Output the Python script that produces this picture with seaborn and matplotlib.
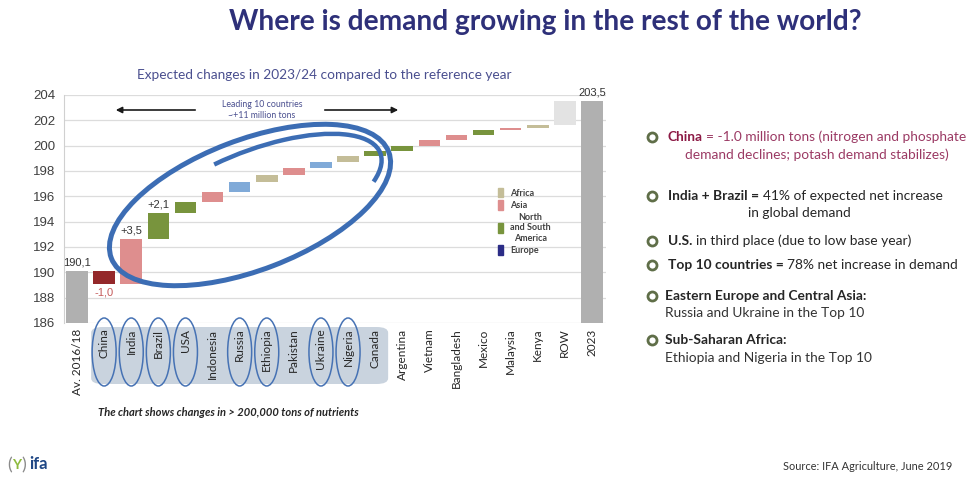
import matplotlib
matplotlib.use("Agg")
import matplotlib.pyplot as plt
from matplotlib.patches import Ellipse, Arc, FancyBboxPatch, Patch
import seaborn as sns

# ---- data (million tons of nutrients) ----
start_label = "Av. 2016/18"
start_value = 190.1
countries = ["China", "India", "Brazil", "USA", "Indonesia", "Russia", "Ethiopia",
             "Pakistan", "Ukraine", "Nigeria", "Canada", "Argentina", "Vietnam",
             "Bangladesh", "Mexico", "Malaysia", "Kenya", "ROW"]
changes = [-1.0, 3.5, 2.1, 0.85, 0.8, 0.75, 0.55, 0.55, 0.5, 0.45, 0.45,
           0.4, 0.45, 0.4, 0.35, 0.2, 0.2, 1.9]
regions = ["Decline", "Asia", "America", "America", "Asia", "Europe", "Africa",
           "Asia", "Europe", "Africa", "America", "America", "Asia",
           "Asia", "America", "Asia", "Africa", "Rest"]
end_label = "2023"
end_value = 203.5
circled = ["China", "India", "Brazil", "USA", "Russia", "Ethiopia", "Ukraine", "Nigeria"]
top_ten = ["China", "India", "Brazil", "USA", "Indonesia", "Russia", "Ethiopia",
           "Pakistan", "Ukraine", "Nigeria", "Canada"]
value_labels = {"Av. 2016/18": "190,1", "China": "-1,0", "India": "+3,5",
                "Brazil": "+2,1", "2023": "203,5"}
y_ticks = [186, 188, 190, 192, 194, 196, 198, 200, 202, 204]

region_colors = {"Total": "#B0B0B0", "Decline": "#94282A", "Asia": "#DE8E8E",
                 "America": "#78943D", "Africa": "#C4BD98", "Europe": "#80AAD8",
                 "Rest": "#E3E3E3"}
legend_entries = [("Africa", "#C4BD98"), ("Asia", "#DE8E8E"),
                  ("North\nand South\nAmerica", "#78943D"), ("Europe", "#2B2C86")]

# ---- waterfall geometry from the data ----
categories = [start_label] + countries + [end_label]
heights = [start_value] + changes + [end_value]
starts = [0.0]
level = start_value
for c in changes:
    starts.append(level)
    level += c
starts.append(0.0)
bar_regions = ["Total"] + regions + ["Total"]
palette = {cat: region_colors[r] for cat, r in zip(categories, bar_regions)}

sns.set_style("white")
plt.rcParams["font.family"] = ["Lato", "DejaVu Sans"]

W, H = 968, 478
fig = plt.figure(figsize=(W / 100, H / 100), dpi=100)
fig.patch.set_facecolor("white")

ax = fig.add_axes([63.5 / W, 1 - 323 / H, 542 / W, 228 / H])
sns.barplot(x=categories, y=heights, hue=categories, palette=palette,
            order=categories, hue_order=categories, legend=False,
            errorbar=None, width=0.8, saturation=1, ax=ax, zorder=3)
# shift each bar so it starts at the running total
for p in ax.patches:
    idx = int(round(p.get_x() + p.get_width() / 2))
    p.set_y(starts[idx])
    p.set_linewidth(0)

ax.set_xlim(-0.5, len(categories) - 0.5)
ax.set_ylim(186, 204)
ax.set_yticks(y_ticks)
ax.set_yticklabels([str(v) for v in y_ticks], fontsize=9.5,
                   family="Liberation Sans", color="#404040")
ax.set_xticks(range(len(categories)))
ax.set_xticklabels(categories, rotation=90, fontsize=8.5, color="#262626")
ax.tick_params(axis="both", length=0)
ax.tick_params(axis="x", pad=4)
ax.tick_params(axis="y", pad=6)
ax.grid(axis="y", color="#DCDCDC", lw=0.9, zorder=0)
ax.set_axisbelow(True)
for s in ["top", "right", "bottom"]:
    ax.spines[s].set_visible(False)
ax.spines["left"].set_color("#D0D0D0")
ax.set_xlabel("")
ax.set_ylabel("")

# value labels
for cat, txt in value_labels.items():
    i = categories.index(cat)
    top = starts[i] + heights[i]
    if heights[i] < 0:
        ax.annotate(txt, (i, top), xytext=(0, -3), textcoords="offset points",
                    ha="center", va="top", fontsize=8, family="Liberation Sans",
                    color="#C45A5A")
    else:
        ax.annotate(txt, (i, top), xytext=(0, 2.5), textcoords="offset points",
                    ha="center", va="bottom", fontsize=8, family="Liberation Sans",
                    color="#333333")

leg = ax.legend([Patch(color=c) for _, c in legend_entries],
                [n for n, _ in legend_entries],
                loc="upper left", bbox_to_anchor=((494 - 63.5) / 542, (323 - 184) / 228),
                frameon=False, prop={"family": "Lato", "weight": "bold", "size": 6.5},
                handlelength=0.55, handleheight=1.3, handletextpad=0.8,
                labelspacing=0.3, borderaxespad=0)
for t in leg.get_texts():
    t.set_multialignment("center")
    t.set_color("#404040")

# ---- overlay in pixel coordinates ----
ov = fig.add_axes([0, 0, 1, 1], zorder=5)
ov.set_xlim(0, W)
ov.set_ylim(H, 0)
ov.axis("off")
ov.patch.set_alpha(0)

fig.canvas.draw()
renderer = fig.canvas.get_renderer()


def xpix(i):
    return ax.transData.transform((i, 190))[0]


# shaded band behind the leading-country labels
x0 = xpix(categories.index(top_ten[0])) - 13
x1 = xpix(categories.index(top_ten[-1])) + 13
band = FancyBboxPatch((x0 / W, 1 - 384 / H), (x1 - x0) / W, 57 / H,
                      boxstyle="round,pad=0,rounding_size=0.012",
                      transform=fig.transFigure, facecolor="#C9D3DE",
                      edgecolor="none", zorder=-1)
fig.patches.append(band)

# hand-drawn ellipses around selected labels
for name in circled:
    xc = xpix(categories.index(name))
    ov.add_patch(Ellipse((xc, 352), 24, 68, fill=False, ec="#4672B4", lw=1.1))

# big swirl around the leading countries
ov.add_patch(Ellipse((250, 205), 297, 130, angle=-21, fill=False,
                     ec="#3C6DB4", lw=3.6))
ov.add_patch(Arc((258, 200), 262, 100, angle=-21, theta1=-120, theta2=12,
                 ec="#3C6DB4", lw=3.2))

# arrows and the leading-countries note
ov.annotate("", xy=(113, 110), xytext=(198, 110),
            arrowprops=dict(arrowstyle="-|>", color="#1A1A1A", lw=1.2,
                            mutation_scale=9))
ov.annotate("", xy=(401, 110), xytext=(322, 110),
            arrowprops=dict(arrowstyle="-|>", color="#1A1A1A", lw=1.2,
                            mutation_scale=9))
ov.text(262, 110, "Leading 10 countries\n~+11 million tons", ha="center",
        va="center", fontsize=6.3, color="#4A4F8F", linespacing=1.2)

# titles
ov.text(545, 22, "Where is demand growing in the rest of the world?", ha="center",
        va="center", fontsize=20.2, fontweight="bold", color="#2E3079")
ov.text(324, 75, "Expected changes in 2023/24 compared to the reference year",
        ha="center", va="center", fontsize=9.8, color="#4A4F8F")
ov.text(98, 412, "The chart shows changes in > 200,000 tons of nutrients",
        ha="left", va="center", fontsize=8.0, fontweight="bold", style="italic",
        color="#262626")

# ---- bullet notes ----
def text_width(s, **kw):
    t = ov.text(0, 0, s, **kw)
    w = t.get_window_extent(renderer).width
    t.remove()
    return w


FS = 9.9


def rich(x, y, parts):
    cur = x
    space = (text_width("x x", fontsize=FS) - text_width("xx", fontsize=FS))
    for k, (s, weight, color) in enumerate(parts):
        words = s.strip()
        if s.startswith(" ") and k > 0:
            cur += space
        t = ov.text(cur, y, words, fontsize=FS, fontweight=weight, color=color,
                    ha="left", va="center")
        cur += t.get_window_extent(renderer).width
        if s.endswith(" "):
            cur += space


def bullet(y):
    ov.plot([652], [y], marker="o", ms=6.5, mfc="white", mec="#5F6E48", mew=2.0)


dark = "#262626"
bullet(137)
rich(668, 137, [("China", "bold", "#8C1A45"),
                (" = -1.0 million tons (nitrogen and phosphate", "normal", "#9B3A64")])
rich(685, 155, [("demand declines; potash demand stabilizes)", "normal", "#9B3A64")])
bullet(196)
rich(668, 196, [("India + Brazil =", "bold", dark),
                (" 41% of expected net increase", "normal", dark)])
rich(748, 213, [("in global demand", "normal", dark)])
bullet(241)
rich(668, 241, [("U.S.", "bold", dark),
                (" in third place (due to low base year)", "normal", dark)])
bullet(265)
rich(668, 265, [("Top 10 countries =", "bold", dark),
                (" 78% net increase in demand", "normal", dark)])
bullet(296)
rich(665, 296, [("Eastern Europe and Central Asia:", "bold", dark)])
rich(665, 313, [("Russia and Ukraine in the Top 10", "normal", "#333333")])
bullet(340)
rich(665, 340, [("Sub-Saharan Africa:", "bold", dark)])
rich(665, 358, [("Ethiopia and Nigeria in the Top 10", "normal", "#333333")])

# ---- footer ----
ov.text(10, 465, "(", ha="center", va="center", fontsize=13, color="#8A8A8A")
ov.text(17, 465, "Y", ha="center", va="center", fontsize=10, fontweight="bold",
        color="#8DBA3C")
ov.text(24, 465, ")", ha="center", va="center", fontsize=13, color="#8A8A8A")
ov.text(29, 464, "ifa", ha="left", va="center", fontsize=12, fontweight="bold",
        color="#1F4785")
ov.text(952, 466, "Source: IFA Agriculture, June 2019", ha="right", va="center",
        fontsize=7.9, color="#333333")

fig.savefig("out.png", dpi=100)
